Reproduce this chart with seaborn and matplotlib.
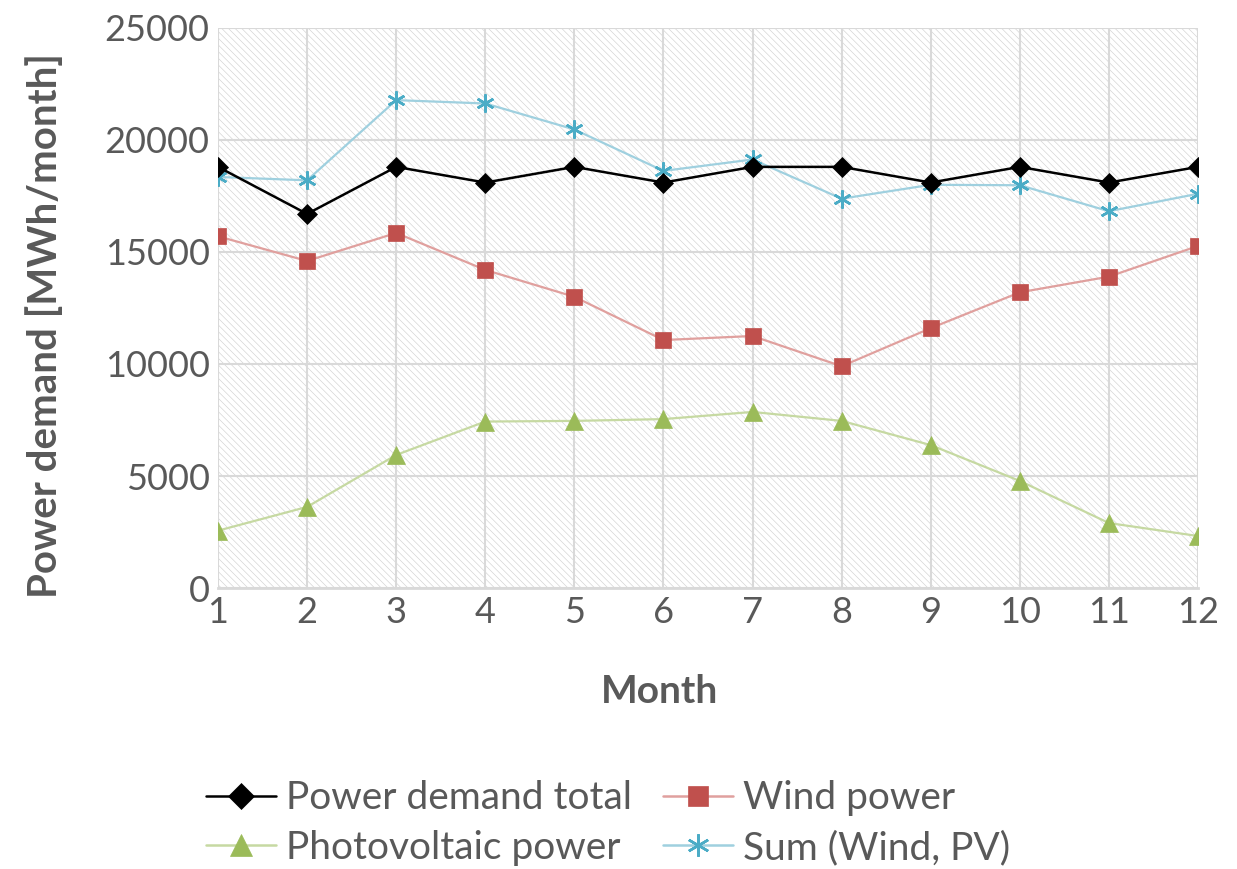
import matplotlib
matplotlib.use("Agg")
import matplotlib.pyplot as plt
from matplotlib.lines import Line2D
from matplotlib.patches import Rectangle
import seaborn as sns
import pandas as pd

months = [1, 2, 3, 4, 5, 6, 7, 8, 9, 10, 11, 12]
demand_total = [18800, 16700, 18800, 18100, 18800, 18100, 18800, 18800, 18100, 18800, 18100, 18800]
wind_power = [15700, 14600, 15850, 14200, 13000, 11070, 11250, 9900, 11600, 13200, 13900, 15270]
pv_power = [2560, 3620, 5940, 7430, 7460, 7540, 7860, 7460, 6380, 4780, 2900, 2320]
sum_wind_pv = [18350, 18200, 21780, 21630, 20470, 18620, 19130, 17380, 18000, 17980, 16820, 17600]

series_labels = ["Power demand total", "Wind power", "Photovoltaic power", "Sum (Wind, PV)"]

df = pd.DataFrame({
    "Month": months,
    series_labels[0]: demand_total,
    series_labels[1]: wind_power,
    series_labels[2]: pv_power,
    series_labels[3]: sum_wind_pv,
})

sns.set_theme(style="white")
plt.rcParams["font.family"] = ["Lato", "DejaVu Sans"]
plt.rcParams["hatch.linewidth"] = 0.45

text_grey = "#595959"
grid_grey = "#d9d9d9"

# line colour, marker colour, marker shape, marker size
styles = {
    series_labels[0]: ("#000000", "#000000", "D", 10),
    series_labels[1]: ("#e0a09e", "#c0504d", "s", 12),
    series_labels[2]: ("#c6d9a2", "#9bbb59", "^", 13),
    series_labels[3]: ("#9fd0df", "#4bacc6", (6, 2, 0), 13),
}

fig = plt.figure(figsize=(12.37, 8.69), dpi=100)
ax = fig.add_axes([218 / 1237, 1 - 588 / 869, (1198 - 218) / 1237, (588 - 28) / 869])

# hatched plot area
ax.add_patch(Rectangle((0, 0), 1, 1, transform=ax.transAxes, facecolor="white",
                       edgecolor="#d2d2d2", hatch="\\\\\\\\\\", linewidth=0, zorder=0))

draw_order = [series_labels[2], series_labels[1], series_labels[3], series_labels[0]]
for name in draw_order:
    lc, mc, mk, ms = styles[name]
    sns.lineplot(data=df, x="Month", y=name, ax=ax, color=lc,
                 linewidth=1.6 if name != series_labels[0] else 1.8,
                 marker=mk, markersize=ms, markerfacecolor=mc, markeredgecolor=mc,
                 markeredgewidth=1.8 if name == series_labels[3] else 0.5, zorder=3)

ax.set_xlim(1, 12)
ax.set_ylim(0, 25000)
ax.set_xticks(months)
ax.set_yticks(range(0, 25001, 5000))
ax.grid(True, color=grid_grey, linewidth=1.5)
ax.set_axisbelow(True)
for side in ["top", "right", "left"]:
    ax.spines[side].set_visible(False)
ax.spines["bottom"].set_color(grid_grey)
ax.spines["bottom"].set_linewidth(2)
ax.tick_params(axis="both", labelsize=26, labelcolor=text_grey, length=0, pad=6)

ax.set_xlabel("Month", fontsize=28, fontweight="bold", color=text_grey, labelpad=32, x=0.451)
ax.set_ylabel("Power demand [MWh/month]", fontsize=29, fontweight="bold", color=text_grey,
              labelpad=29, y=0.468)

# legend entries in row-major order over two columns
legend_order = [series_labels[0], series_labels[2], series_labels[1], series_labels[3]]
handles = []
for name in legend_order:
    lc, mc, mk, ms = styles[name]
    handles.append(Line2D([0], [0], color=lc, linewidth=1.8, marker=mk, markersize=ms + 3,
                          markerfacecolor=mc, markeredgecolor=mc,
                          markeredgewidth=1.8 if name == series_labels[3] else 0.5))
leg = fig.legend(handles=handles, labels=legend_order, ncol=2, loc="center",
                 bbox_to_anchor=(608 / 1237, 1 - 823 / 869), frameon=False,
                 fontsize=28, handlelength=1.8, handletextpad=0.25, columnspacing=0.8,
                 labelspacing=0.35, labelcolor=text_grey)

fig.savefig("out.png", dpi=100)
